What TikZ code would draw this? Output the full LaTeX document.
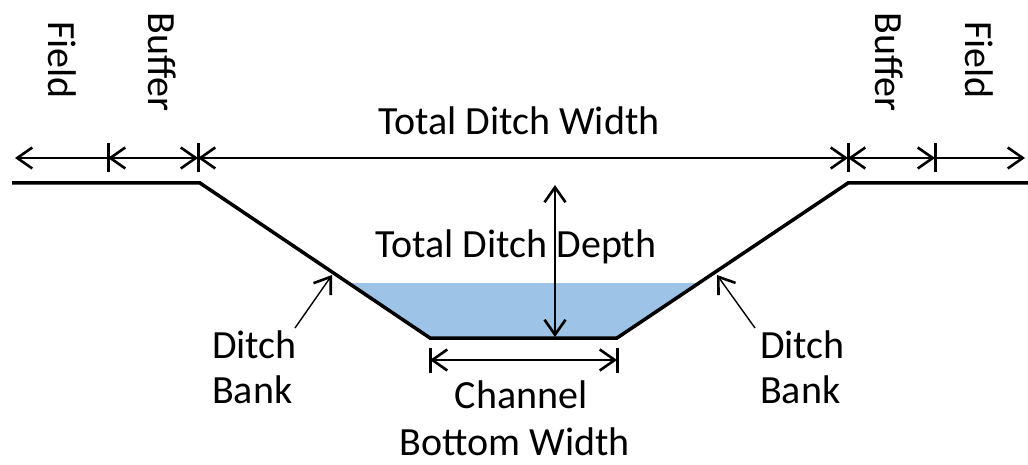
\documentclass[tikz,border=0pt]{standalone}
\usepackage{fontspec}
\setmainfont{Carlito}
\usetikzlibrary{arrows.meta}
\definecolor{water}{HTML}{9DC3E6}
\tikzset{
  barb/.tip={Straight Barb[length=15pt,width=21pt,line width=2.6pt]},
  ground/.style={line width=3.5pt, line join=miter},
  dim/.style={line width=1.6pt},
  tick/.style={line width=3pt},
  pointer/.style={line width=1.4pt},
  lbl/.style={font=\fontsize{40}{45}\selectfont, inner sep=0pt}
}
\begin{document}
\begin{tikzpicture}[x=1pt,y=-1pt]
\useasboundingbox (0,0) rectangle (1028,465);

% profile of the ditch
\coordinate (g0) at (12,183);
\coordinate (g1) at (200,183);
\coordinate (c1) at (430,338);
\coordinate (c2) at (617,338);
\coordinate (g2) at (848,183);
\coordinate (g3) at (1028,183);
\coordinate (w1) at (348.4,283);
\coordinate (w2) at (699,283);

% water in the channel
\fill[water] (w1) -- (w2) -- (c2) -- (c1) -- cycle;
\draw[ground] (g0) -- (g1) -- (c1) -- (c2) -- (g2) -- (g3);

% widths along the top
\coordinate (fL) at (15,158);
\coordinate (b1) at (108,158);
\coordinate (b2) at (198,158);
\coordinate (b3) at (848,158);
\coordinate (b4) at (935,158);
\coordinate (fR) at (1025,158);
\foreach \t in {b1,b2,b3,b4}
  \draw[tick] ([yshift=15pt]\t) -- ([yshift=-14pt]\t);
\draw[dim,-barb] (b1) -- (fL);
\draw[dim,barb-barb] (b1) -- (b2);
\draw[dim,barb-barb] (b2) -- (b3);
\draw[dim,barb-barb] (b3) -- (b4);
\draw[dim,-barb] (b4) -- (fR);

% labels
\node[lbl, anchor=base] (tdw) at (519,135) {Total Ditch Width};
\node[lbl, anchor=base] (tdd) at (516,258) {Total Ditch Depth};
\node[lbl, rotate=-90, anchor=base] (fieldL) at (48,60) {Field};
\node[lbl, rotate=-90, anchor=base] (bufL) at (148,62) {Buffer};
\node[lbl, rotate=-90, anchor=base] (bufR) at (875,62) {Buffer};
\node[lbl, rotate=-90, anchor=base] (fieldR) at (965,60) {Field};
\node[lbl, anchor=base west] (dbL1) at (212,358) {Ditch};
\node[lbl, anchor=base west] (dbL2) at (212,403) {Bank};
\node[lbl, anchor=base west] (dbR1) at (760,358) {Ditch};
\node[lbl, anchor=base west] (dbR2) at (760,403) {Bank};
\node[lbl, anchor=base] (chn) at (521,408) {Channel};
\node[lbl, anchor=base] (cbw) at (515,455) {Bottom Width};

% depth
\coordinate (dTop) at (555,185);
\coordinate (dBot) at (555,337);
\draw[dim,barb-barb] (dBot) -- (dTop);

% channel bottom width
\coordinate (cw1) at (430,360);
\coordinate (cw2) at (617,360);
\foreach \t in {cw1,cw2}
  \draw[tick] ([yshift=12pt]\t) -- ([yshift=-13pt]\t);
\draw[dim,barb-barb] (cw1) -- (cw2);

% bank pointers
\coordinate (pLt) at (295,328);
\coordinate (pLh) at (332,275);
\coordinate (pRt) at (755,328);
\coordinate (pRh) at (717,275);
\draw[pointer,-barb] (pLt) -- (pLh);
\draw[pointer,-barb] (pRt) -- (pRh);
\end{tikzpicture}
\end{document}
